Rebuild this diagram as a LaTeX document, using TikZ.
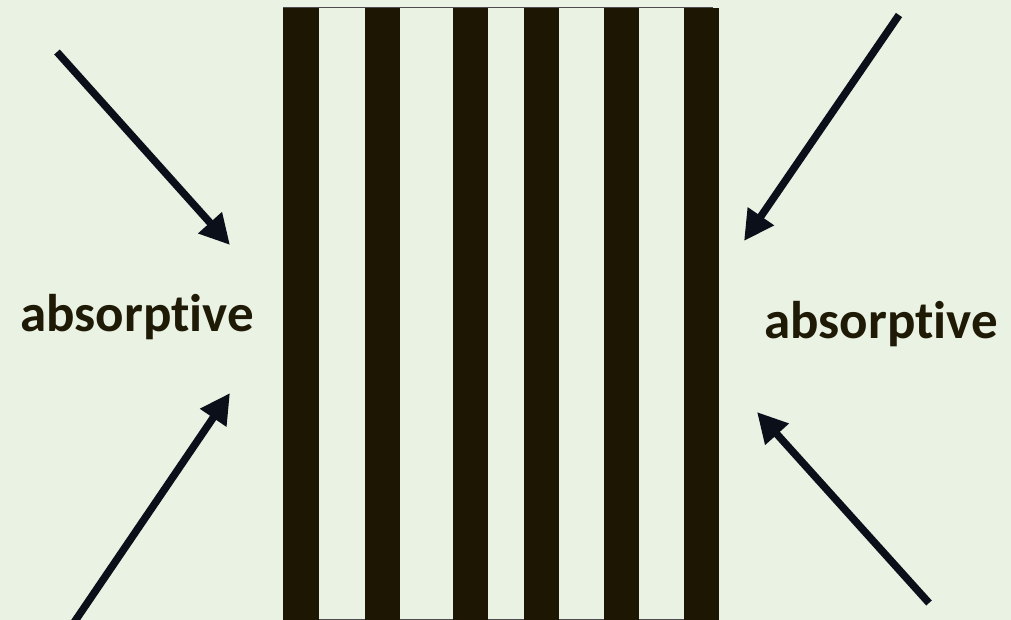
\documentclass[tikz,border=0pt]{standalone}
\usepackage{fontspec}
\setmainfont[Ligatures=NoCommon]{Carlito}
\usetikzlibrary{arrows.meta}
\definecolor{bgc}{HTML}{EAF2E3}
\definecolor{stripec}{HTML}{1C1603}
\definecolor{arrc}{HTML}{0B0F1A}
\definecolor{txtc}{HTML}{1E1A05}
\tikzset{
  stripe/.style={fill=stripec, draw=none},
  ray/.style={draw=arrc, line width=7.5pt, -{Triangle[length=30pt,width=30pt]}},
  label/.style={font=\fontsize{53}{62}\selectfont\bfseries, text=txtc, anchor=base, inner sep=0pt}
}
\begin{document}
\begin{tikzpicture}[x=1pt,y=-1pt]
\path[fill=bgc] (0,0) rectangle (1011,620);
\useasboundingbox (0,0) rectangle (1011,620);
\draw[draw=black!70, line width=1pt] (283,7.5) rectangle (712,619.5);
\foreach \a/\b in {283/319, 365/400, 453/488, 524/559, 604/639, 684/719}{
  \fill[stripec] (\a,8) rectangle (\b,620);
}
\node[label] (lt) at (137,331) {absorptive};
\node[label] (rt) at (881,338) {absorptive};
\coordinate (a1s) at (57,52);
\coordinate (a1e) at (230,245);
\coordinate (a2s) at (73,624);
\coordinate (a2e) at (230,393);
\coordinate (a3s) at (899,15);
\coordinate (a3e) at (744,241);
\coordinate (a4s) at (929,603);
\coordinate (a4e) at (757,412);
\draw[ray] (a1s) -- (a1e);
\draw[ray] (a2s) -- (a2e);
\draw[ray] (a3s) -- (a3e);
\draw[ray] (a4s) -- (a4e);
\end{tikzpicture}
\end{document}
